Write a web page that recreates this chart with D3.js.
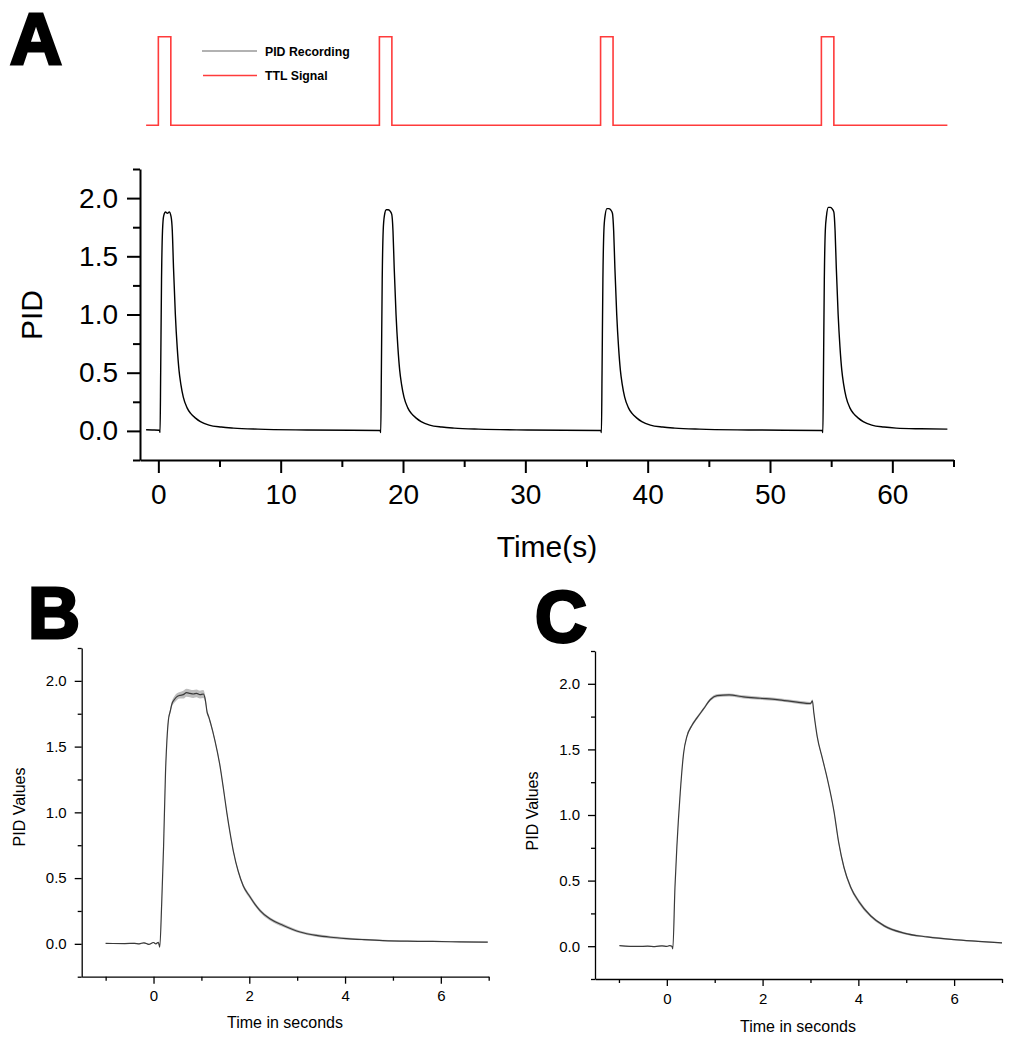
<!DOCTYPE html>
<html><head><meta charset="utf-8">
<script src="https://cdn.jsdelivr.net/npm/d3@7"></script>
<style>
body{margin:0;background:#fff;}
svg text{font-family:"Liberation Sans",Arial,sans-serif;}
</style></head>
<body><svg id="c" width="1023" height="1050"></svg>
<script>
// ---------- DATA ----------
// Panel A: TTL pulses (rise, fall times in s)
const ttlRise = [0, 18.07, 36.15, 54.2];
const ttlFall = [1.02, 19.09, 37.17, 55.22];
const ttlStart = -1.0, ttlEnd = 64.5;

// Panel A: PID recording, [time s, value]
const pidA_pulse1 = [[-1.0,0.01],[-0.5,0.008],[0.09,0.005],[0.14,-0.015],[0.19,0.5],[0.26,1.3],[0.34,1.72],[0.44,1.85],[0.59,1.88],[0.74,1.87],[0.89,1.88],[1.04,1.84],[1.14,1.72],[1.24,1.4],[1.39,1.0],[1.54,0.72],[1.69,0.52],[1.84,0.4],[2.04,0.29],[2.34,0.2],[2.64,0.15],[3.04,0.11],[3.44,0.08],[4.14,0.05],[5.14,0.033],[6.14,0.024],[8.14,0.015],[12.14,0.008],[18.13,0.004]];
const pidA_pulse2 = [[18.18,-0.015],[18.23,0.5],[18.30,1.3],[18.38,1.72],[18.48,1.85],[18.63,1.90],[18.78,1.90],[18.93,1.89],[19.08,1.86],[19.18,1.72],[19.28,1.4],[19.43,1.0],[19.58,0.72],[19.73,0.52],[19.88,0.4],[20.08,0.29],[20.38,0.2],[20.68,0.15],[21.08,0.11],[21.48,0.08],[22.18,0.05],[23.18,0.033],[24.18,0.024],[26.18,0.015],[30.18,0.008],[36.17,0.004]];
const pidA_pulse3 = [[36.22,-0.015],[36.27,0.5],[36.34,1.3],[36.42,1.72],[36.52,1.85],[36.67,1.91],[36.82,1.91],[36.97,1.90],[37.12,1.87],[37.22,1.72],[37.32,1.4],[37.47,1.0],[37.62,0.72],[37.77,0.52],[37.92,0.4],[38.12,0.29],[38.42,0.2],[38.72,0.15],[39.12,0.11],[39.52,0.08],[40.22,0.05],[41.22,0.033],[42.22,0.024],[44.22,0.015],[48.22,0.008],[54.27,0.004]];
const pidA_pulse4 = [[54.32,-0.015],[54.37,0.5],[54.44,1.3],[54.52,1.72],[54.62,1.85],[54.77,1.92],[54.92,1.92],[55.07,1.91],[55.22,1.88],[55.32,1.72],[55.42,1.4],[55.57,1.0],[55.72,0.72],[55.87,0.52],[56.02,0.4],[56.22,0.29],[56.52,0.2],[56.82,0.15],[57.22,0.11],[57.62,0.08],[58.32,0.05],[59.32,0.033],[60.32,0.024],[62.32,0.018],[64.5,0.015]];

const ticksA_x = [0,10,20,30,40,50,60];
const minorA_x = [5,15,25,35,45,55,65];
const ticksY = [0,0.5,1.0,1.5,2.0];
const minorY = [-0.25,0.25,0.75,1.25,1.75,2.25];

// Panel B: 1 s pulse average (mean and SEM)
const timeB = [-1.0,-0.6,-0.4,-0.3,-0.2,-0.1,0.0,0.05,0.1,0.13,0.17,0.21,0.25,0.28,0.31,0.35,0.38,0.44,0.49,0.55,0.62,0.69,0.76,0.83,0.9,0.97,1.04,1.08,1.12,1.15,1.19,1.28,1.39,1.46,1.53,1.6,1.67,1.77,1.875,2.01,2.12,2.22,2.43,2.71,3.06,3.4,3.7,4.03,4.4,4.79,5.3,5.83,6.4,6.98];
const meanB = [0.003,0.002,0.004,0.0,0.008,-0.004,0.01,0.0,0.012,-0.025,0.3,0.74,1.3,1.55,1.70,1.77,1.82,1.86,1.88,1.89,1.895,1.91,1.905,1.9,1.905,1.895,1.90,1.86,1.76,1.73,1.68,1.55,1.35,1.18,1.0,0.84,0.70,0.55,0.44,0.36,0.30,0.255,0.19,0.14,0.09,0.064,0.05,0.04,0.032,0.025,0.02,0.018,0.015,0.013];
const semB = [0.004,0.004,0.004,0.004,0.004,0.004,0.004,0.004,0.004,0.005,0.01,0.015,0.015,0.015,0.015,0.02,0.02,0.025,0.025,0.025,0.03,0.03,0.03,0.03,0.03,0.03,0.03,0.025,0.02,0.015,0.015,0.012,0.012,0.012,0.012,0.012,0.012,0.012,0.015,0.015,0.015,0.014,0.012,0.012,0.01,0.01,0.009,0.008,0.007,0.006,0.005,0.005,0.005,0.005];

// Panel C: 3 s pulse average (mean and SEM)
const timeC = [-0.99,-0.6,-0.4,-0.25,-0.1,0.0,0.06,0.105,0.125,0.17,0.21,0.28,0.35,0.42,0.52,0.63,0.77,0.91,1.05,1.3,1.6,1.95,2.3,2.72,3.0,3.04,3.07,3.14,3.25,3.35,3.49,3.59,3.7,3.84,4.01,4.26,4.54,4.95,5.44,6.0,6.5,7.0];
const meanC = [0.005,-0.002,0.0,-0.003,0.003,-0.002,0.004,0.0,-0.02,0.45,0.76,1.17,1.47,1.6,1.68,1.74,1.81,1.88,1.91,1.915,1.90,1.89,1.88,1.86,1.85,1.87,1.78,1.60,1.43,1.28,1.03,0.79,0.60,0.45,0.34,0.23,0.155,0.10,0.071,0.05,0.037,0.025];
const semC = [0.003,0.003,0.003,0.003,0.003,0.003,0.003,0.003,0.003,0.008,0.01,0.01,0.01,0.012,0.012,0.012,0.012,0.012,0.012,0.012,0.012,0.012,0.012,0.012,0.012,0.012,0.01,0.01,0.01,0.01,0.012,0.015,0.015,0.015,0.015,0.012,0.01,0.008,0.006,0.005,0.005,0.005];

const ticksBC_x = [0,2,4,6];
const minorBC_x = [-1,1,3,5,7];

// ---------- DRAW ----------
const svg = d3.select("#c");
const fmt = d3.format(".1f");

function drawAxes(g, x, y, o) {
  const xa = g.append("g").attr("transform", `translate(0,${y.range()[0]})`);
  xa.call(d3.axisBottom(x).tickValues(o.xMajor).tickSize(o.major).tickSizeOuter(0).tickPadding(o.xPad).tickFormat(d3.format("d")));
  const xm = g.append("g").attr("transform", `translate(0,${y.range()[0]})`);
  xm.call(d3.axisBottom(x).tickValues(o.xMinor).tickSize(o.minor).tickSizeOuter(0).tickFormat(""));
  const ya = g.append("g").attr("transform", `translate(${x.range()[0]},0)`);
  ya.call(d3.axisLeft(y).tickValues(ticksY).tickSize(o.major).tickSizeOuter(0).tickPadding(o.yPad).tickFormat(fmt));
  const ym = g.append("g").attr("transform", `translate(${x.range()[0]},0)`);
  ym.call(d3.axisLeft(y).tickValues(minorY).tickSize(o.minor).tickSizeOuter(0).tickFormat(""));
  [xa, xm, ya, ym].forEach(a => {
    a.selectAll("path").attr("stroke", "#000").attr("stroke-width", o.lw);
    a.selectAll("line").attr("stroke", "#000").attr("stroke-width", o.lw);
    a.selectAll("text").attr("fill", "#000").style("font-size", o.fs + "px")
      .style("font-family", '"Liberation Sans", Arial, sans-serif');
  });
  xm.select("path").remove(); ym.select("path").remove();
}

// ----- Panel A -----
const xA = d3.scaleLinear().domain([-1.5, 65]).range([140, 953.5]);
const yA = d3.scaleLinear().domain([-0.25, 2.25]).range([460, 169]);
const yT = d3.scaleLinear().domain([0, 1]).range([125.3, 36.7]);

// TTL steps built from rise/fall times
const ttlPts = [[ttlStart, 0]];
ttlRise.forEach((r, i) => { ttlPts.push([r, 1]); ttlPts.push([ttlFall[i], 0]); });
ttlPts.push([ttlEnd, 0]);
svg.append("path").datum(ttlPts)
  .attr("d", d3.line().x(d => xA(d[0])).y(d => yT(d[1])).curve(d3.curveStepAfter))
  .attr("fill", "none").attr("stroke", "#ff3b3b").attr("stroke-width", 1.6);

// legend
const leg = svg.append("g");
leg.append("line").attr("x1", 202).attr("x2", 257).attr("y1", 51).attr("y2", 51).attr("stroke", "#999").attr("stroke-width", 1.4);
leg.append("line").attr("x1", 203).attr("x2", 257).attr("y1", 75.5).attr("y2", 75.5).attr("stroke", "#ff3b3b").attr("stroke-width", 1.4);
leg.append("text").attr("x", 265).attr("y", 55.5).text("PID Recording").style("font-size", "12.3px").style("font-weight", "bold");
leg.append("text").attr("x", 265).attr("y", 80).text("TTL Signal").style("font-size", "12.3px").style("font-weight", "bold");

const gA = svg.append("g");
drawAxes(gA, xA, yA, {xMajor: ticksA_x, xMinor: minorA_x, major: 13, minor: 7, xPad: 11, yPad: 9, lw: 2, fs: 28});

const pidA = [...pidA_pulse1, ...pidA_pulse2, ...pidA_pulse3, ...pidA_pulse4];
svg.append("path").datum(pidA)
  .attr("d", d3.line().x(d => xA(d[0])).y(d => yA(d[1])).curve(d3.curveMonotoneX))
  .attr("fill", "none").attr("stroke", "#000").attr("stroke-width", 1.4);

svg.append("text").attr("x", 547).attr("y", 557).attr("text-anchor", "middle").text("Time(s)").style("font-size", "30px");
svg.append("text").attr("transform", "translate(42,315) rotate(-90)").attr("text-anchor", "middle").text("PID").style("font-size", "30px");

// ----- Panels B & C -----
function panel(t, m, s, xr, yr, labX, labY, ylabX, ylabY) {
  const x = d3.scaleLinear().domain([-1.5, 7]).range(xr);
  const y = d3.scaleLinear().domain([-0.25, 2.25]).range(yr);
  const g = svg.append("g");
  const data = t.map((v, i) => ({t: v, m: m[i], s: s[i]}));
  g.append("path").datum(data)
    .attr("d", d3.area().x(d => x(d.t)).y0(d => y(d.m - d.s)).y1(d => y(d.m + d.s)).curve(d3.curveMonotoneX))
    .attr("fill", "#bdbdbd").attr("stroke", "none");
  g.append("path").datum(data)
    .attr("d", d3.line().x(d => x(d.t)).y(d => y(d.m)).curve(d3.curveMonotoneX))
    .attr("fill", "none").attr("stroke", "#3a3a3a").attr("stroke-width", 1.2);
  drawAxes(g, x, y, {xMajor: ticksBC_x, xMinor: minorBC_x, major: 7, minor: 4, xPad: 7, yPad: 8, lw: 1.3, fs: 15});
  g.append("text").attr("x", labX).attr("y", labY).attr("text-anchor", "middle").text("Time in seconds").style("font-size", "16px");
  g.append("text").attr("transform", `translate(${ylabX},${ylabY}) rotate(-90)`).attr("text-anchor", "middle").text("PID Values").style("font-size", "16px");
}
panel(timeB, meanB, semB, [81.7, 488.7], [976.7, 648], 285, 1028, 25, 807);
panel(timeC, meanC, semC, [595, 1002], [979, 651], 798, 1032, 538, 811);

// Panel letters
[["A", 10, 64], ["B", 28, 638], ["C", 535, 642]].forEach(([l, x, y]) => {
  svg.append("text").attr("x", x).attr("y", y).text(l)
    .style("font-size", "72px").style("font-weight", "bold")
    .attr("stroke", "#000").attr("stroke-width", 3).attr("fill", "#000");
});
</script></body></html>
